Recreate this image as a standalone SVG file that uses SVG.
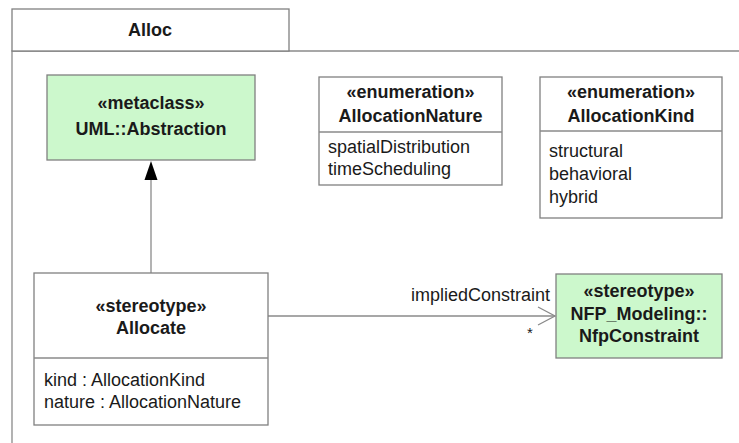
<svg xmlns="http://www.w3.org/2000/svg" width="739" height="443" viewBox="0 0 739 443">
<defs>
<style>
.box{fill:#ffffff;stroke:#808080;stroke-width:1.3}
.green{fill:#ccf8cc;stroke:#808080;stroke-width:1.3}
.line{stroke:#8a8a8a;stroke-width:1.3;fill:none}
text{font-family:"Liberation Sans",Arial,sans-serif;font-size:18px;fill:#1a1a1a}
.b{font-weight:bold;text-anchor:middle}
</style>
</defs>
<rect width="739" height="443" fill="#ffffff"/>
<g id="package">
<path class="line" d="M12,443 V51 H739"/>
<rect class="box" x="12" y="9" width="277" height="42"/>
<text class="b" x="150" y="36">Alloc</text>
</g>
<g id="connectors">
<line class="line" x1="151" y1="273" x2="151" y2="180"/>
<polygon points="151,161 144.5,180 157.5,180" fill="#000"/>
<line class="line" x1="268" y1="316" x2="555" y2="316"/>
<polyline class="line" points="538,307 555,316 538,325"/>
<text x="411" y="301">impliedConstraint</text>
<text x="527" y="338" style="font-size:15px">*</text>
</g>
<g id="abstraction">
<rect class="green" x="47" y="75" width="208" height="85"/>
<text class="b" x="151" y="109">«metaclass»</text>
<text class="b" x="151" y="135">UML::Abstraction</text>
</g>
<g id="allocationNature">
<rect class="box" x="319" y="77" width="183" height="108"/>
<line class="line" x1="319" y1="132" x2="502" y2="132"/>
<text class="b" x="410.5" y="98">«enumeration»</text>
<text class="b" x="410.5" y="122">AllocationNature</text>
<text x="328" y="153">spatialDistribution</text>
<text x="328" y="175">timeScheduling</text>
</g>
<g id="allocationKind">
<rect class="box" x="540" y="77" width="182" height="141"/>
<line class="line" x1="540" y1="131" x2="722" y2="131"/>
<text class="b" x="631" y="98">«enumeration»</text>
<text class="b" x="631" y="122">AllocationKind</text>
<text x="549" y="157">structural</text>
<text x="549" y="180">behavioral</text>
<text x="549" y="203">hybrid</text>
</g>
<g id="allocate">
<rect class="box" x="34" y="273" width="234" height="152"/>
<line class="line" x1="34" y1="358" x2="268" y2="358"/>
<text class="b" x="151" y="312">«stereotype»</text>
<text class="b" x="151" y="334">Allocate</text>
<text x="44" y="386">kind : AllocationKind</text>
<text x="44" y="408">nature : AllocationNature</text>
</g>
<g id="nfpConstraint">
<rect class="green" x="556" y="274" width="166" height="84"/>
<text class="b" x="639" y="297">«stereotype»</text>
<text class="b" x="639" y="320">NFP_Modeling::</text>
<text class="b" x="639" y="342">NfpConstraint</text>
</g>
</svg>
